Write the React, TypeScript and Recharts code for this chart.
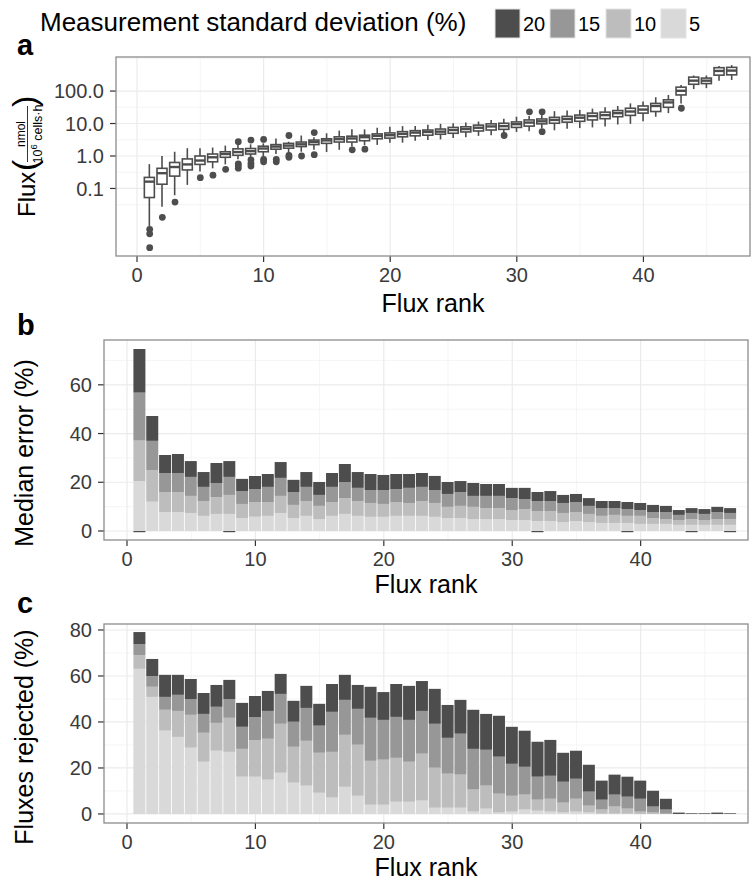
import React from "react";
import { ComposedChart, Bar, Scatter, XAxis, YAxis, CartesianGrid } from "recharts";

const FONT = "'Liberation Sans', Arial, Helvetica, sans-serif";

// ---------- shared x categories ----------
const ranks = [1, 2, 3, 4, 5, 6, 7, 8, 9, 10, 11, 12, 13, 14, 15, 16, 17, 18, 19, 20, 21, 22, 23, 24, 25, 26, 27, 28, 29, 30, 31, 32, 33, 34, 35, 36, 37, 38, 39, 40, 41, 42, 43, 44, 45, 46, 47];
const xTicks = [0, 10, 20, 30, 40];
const xMinor = [5, 15, 25, 35, 45];

// ---------- panel a: boxplots of flux (nmol / 10^6 cells h) ----------
const boxHigh = [0.56, 1.0, 1.35, 1.74, 1.74, 1.82, 2.09, 2.19, 2.29, 2.45, 3.47, 2.75, 4.27, 3.8, 5.01, 6.03, 6.61, 6.61, 7.41, 7.94, 8.32, 8.32, 9.12, 9.77, 10.2, 10.7, 11.5, 12.9, 14.1, 16.2, 17.0, 18.2, 24.0, 25.1, 26.3, 28.8, 31.6, 34.7, 41.7, 47.9, 64.6, 75.9, 155, 302, 302, 589, 631];
const boxQ3 = [0.219, 0.417, 0.631, 0.813, 1.0, 1.15, 1.35, 1.66, 1.7, 2.0, 2.24, 2.45, 2.69, 3.09, 3.39, 3.89, 4.07, 4.37, 4.79, 5.13, 5.62, 6.03, 6.31, 6.76, 7.59, 7.94, 8.91, 9.77, 10.2, 11.2, 12.9, 13.8, 15.5, 16.6, 18.2, 20.9, 22.4, 25.1, 29.5, 34.7, 41.7, 53.7, 132, 269, 251, 525, 537];
const boxMedian = [0.162, 0.295, 0.457, 0.55, 0.724, 0.912, 1.15, 1.32, 1.41, 1.7, 1.95, 2.09, 2.29, 2.69, 3.02, 3.31, 3.47, 3.8, 4.17, 4.37, 4.79, 5.25, 5.5, 5.62, 6.31, 6.76, 7.41, 8.13, 8.32, 9.55, 10.7, 11.7, 12.9, 13.8, 15.1, 17.0, 18.2, 20.9, 23.4, 26.9, 34.7, 44.7, 102, 209, 209, 417, 427];
const boxQ1 = [0.0525, 0.135, 0.24, 0.372, 0.55, 0.661, 0.912, 1.05, 1.15, 1.35, 1.62, 1.74, 1.95, 2.24, 2.45, 2.69, 2.69, 2.95, 3.39, 3.55, 3.89, 4.17, 4.37, 4.68, 5.01, 5.5, 5.89, 6.31, 6.61, 7.59, 8.32, 9.77, 10.2, 11.0, 11.7, 12.9, 14.1, 16.2, 17.8, 20.9, 23.4, 31.6, 75.9, 162, 170, 309, 316];
const boxLow = [0.0069, 0.0275, 0.0617, 0.129, 0.331, 0.417, 0.55, 0.79, 0.87, 0.955, 1.15, 1.2, 1.35, 1.55, 1.32, 1.55, 1.95, 2.14, 2.19, 2.57, 2.57, 2.95, 3.09, 3.24, 3.55, 3.8, 4.17, 4.37, 5.01, 5.5, 5.75, 7.08, 6.17, 6.92, 7.24, 7.59, 8.13, 9.33, 9.77, 11.7, 16.2, 20.9, 41.7, 115, 123, 209, 219];
const outlierRank = [1, 1, 1, 2, 3, 5, 6, 7, 8, 8, 8, 8, 9, 9, 9, 9, 10, 10, 10, 11, 11, 12, 12, 12, 13, 14, 14, 17, 18, 29, 31, 32, 32, 43];
const outlierFlux = [0.0055, 0.004, 0.0015, 0.0129, 0.038, 0.214, 0.257, 0.389, 2.75, 0.575, 0.5, 0.42, 3.09, 0.76, 0.59, 0.49, 3.24, 0.79, 0.66, 0.79, 0.66, 4.27, 1.05, 0.91, 1.0, 5.25, 1.1, 1.55, 1.62, 4.27, 22.9, 22.9, 5.62, 29.5];
const fluxTicks = [0.1, 1, 10, 100];

// ---------- panel b: median error (%) per measurement SD ----------
const errSd20 = [74.7, 47.2, 31.2, 31.6, 28.7, 24.2, 27.9, 28.7, 21.4, 22.6, 23.4, 28.3, 21.0, 24.2, 20.1, 23.8, 27.5, 24.2, 23.4, 23.0, 23.4, 23.4, 23.8, 22.6, 20.1, 20.5, 19.7, 19.3, 19.3, 17.7, 17.7, 16.0, 16.4, 14.8, 15.2, 13.5, 12.3, 12.3, 11.9, 11.5, 10.7, 10.3, 8.6, 9.4, 9.0, 9.9, 9.4];
const errSd15 = [56.8, 37.0, 23.8, 23.8, 22.2, 18.1, 19.7, 22.2, 16.4, 17.2, 18.1, 21.8, 16.0, 18.1, 14.8, 18.1, 20.1, 17.7, 16.8, 16.8, 17.2, 17.7, 18.1, 16.8, 15.2, 16.0, 14.4, 14.4, 14.4, 13.5, 13.1, 12.3, 12.3, 11.5, 11.9, 10.3, 9.4, 9.4, 9.0, 8.6, 7.8, 7.8, 6.6, 7.4, 7.0, 7.8, 7.4];
const errSd10 = [37.1, 25.0, 16.0, 16.0, 14.4, 12.3, 13.9, 14.8, 11.1, 11.9, 11.9, 14.4, 10.7, 12.3, 10.3, 11.9, 13.5, 12.3, 11.5, 11.1, 11.9, 11.5, 12.3, 11.5, 9.9, 10.3, 9.9, 9.4, 9.4, 8.6, 9.0, 8.2, 8.2, 7.4, 7.8, 7.0, 6.2, 6.6, 6.2, 6.2, 5.3, 4.9, 4.5, 4.9, 4.5, 4.9, 4.9];
const errSd5 = [20.5, 12.0, 7.8, 7.8, 7.4, 6.2, 7.0, 7.0, 5.3, 5.8, 6.2, 7.4, 5.3, 6.2, 4.9, 6.2, 7.0, 6.2, 5.8, 5.8, 6.2, 6.2, 6.2, 5.8, 5.3, 5.3, 4.9, 4.9, 4.9, 4.5, 4.5, 4.1, 4.1, 3.7, 4.1, 3.7, 3.3, 3.3, 3.3, 2.9, 2.9, 2.9, 2.5, 2.5, 2.5, 2.5, 2.5];
// slightly negative median errors (SD 20), visible as thin dark marks below zero
const errSd20Below = [-0.5, 0, 0, 0, 0, 0, 0, -0.5, 0, 0, 0, 0, 0, 0, 0, 0, 0, 0, 0, 0, 0, 0, 0, 0, 0, 0, 0, 0, 0, 0, 0, -0.5, 0, 0, 0, 0, 0, 0, -0.5, 0, 0, 0, 0, -0.5, 0, 0, -0.5];
const errTicks = [0, 20, 40, 60];

// ---------- panel c: fluxes rejected (%) per measurement SD ----------
const rejSd20 = [79.1, 67.4, 60.5, 60.5, 58.7, 52.6, 56.1, 58.3, 48.3, 51.3, 53.5, 60.9, 49.2, 55.7, 47.9, 56.5, 60.5, 56.1, 55.3, 53.0, 56.5, 55.7, 57.8, 54.4, 47.4, 49.6, 45.3, 43.5, 42.7, 37.9, 36.2, 31.4, 32.2, 26.6, 27.5, 21.4, 14.5, 17.1, 16.2, 14.5, 10.1, 6.6, 0.6, 0.3, 0.3, 0.6, 0.3];
const rejSd15 = [73.9, 60.0, 50.9, 51.8, 50.0, 43.5, 46.6, 50.0, 37.9, 42.2, 44.8, 52.2, 40.1, 46.1, 38.4, 44.4, 49.6, 45.7, 41.8, 40.9, 42.2, 40.9, 44.8, 39.2, 33.1, 34.9, 28.3, 27.9, 24.9, 21.8, 20.5, 16.2, 16.6, 14.0, 15.3, 9.7, 6.2, 8.4, 7.5, 6.6, 3.2, 1.9, 0, 0, 0, 0, 0];
const rejSd10 = [69.1, 55.3, 45.3, 44.8, 43.1, 35.3, 39.6, 41.8, 28.3, 32.2, 32.7, 39.2, 29.2, 31.8, 26.6, 27.0, 34.4, 30.1, 23.1, 23.6, 24.4, 22.7, 26.2, 20.1, 17.5, 17.1, 10.6, 12.3, 8.8, 7.9, 8.4, 6.2, 6.6, 4.9, 6.6, 3.6, 1.9, 3.2, 2.3, 1.0, 0.6, 0.1, 0, 0, 0, 0, 0];
const rejSd5 = [63.1, 50.9, 36.2, 33.5, 28.8, 22.7, 27.5, 27.0, 16.2, 16.2, 14.9, 17.9, 13.6, 12.3, 9.2, 7.1, 11.8, 7.9, 4.0, 4.0, 5.3, 5.3, 5.8, 2.7, 2.7, 2.7, 1.0, 2.3, 0.6, 1.0, 1.9, 1.4, 1.0, 0.6, 1.0, 0.6, 0.1, 0.1, 0.1, 0, 0, 0, 0, 0, 0, 0, 0];
const rejSd20Below = [0, 0, 0, 0, 0, 0, 0, 0, 0, 0, 0, 0, 0, 0, 0, 0, 0, 0, 0, 0, 0, 0, 0, 0, 0, 0, 0, 0, 0, 0, 0, 0, 0, 0, 0, 0, 0, 0, 0, 0, 0, 0, 0, 0, 0, 0, 0];
const rejTicks = [0, 20, 40, 60, 80];

// ---------- legend ----------
const sdLabels = ["20", "15", "10", "5"];
const sdColors = ["#4D4D4D", "#979797", "#BDBDBD", "#D9D9D9"];

// ---------- tables for the library ----------
const boxData = ranks.map((r, i) => ({
  rank: r,
  lo: boxLow[i],
  q1: boxQ1[i],
  med: boxMedian[i],
  q3: boxQ3[i],
  hi: boxHigh[i],
}));
const outlierData = outlierRank.map((r, i) => ({ rank: r, flux: outlierFlux[i] }));

// bars are overlaid (SD 20 behind, SD 5 in front): visible bands = running max
const overlay = (s5: number[], s10: number[], s15: number[], s20: number[], below: number[]) =>
  ranks.map((r, i) => {
    const m5 = s5[i];
    const m10 = Math.max(m5, s10[i]);
    const m15 = Math.max(m10, s15[i]);
    const m20 = Math.max(m15, s20[i]);
    return { rank: r, neg: below[i], v5: m5, v10: m10 - m5, v15: m15 - m10, v20: m20 - m15 };
  });
const errData = overlay(errSd5, errSd10, errSd15, errSd20, errSd20Below);
const rejData = overlay(rejSd5, rejSd10, rejSd15, rejSd20, rejSd20Below);

const INK = "#4D4D4D";
const tickStyle = { fontFamily: FONT, fontSize: 20, fill: "#3A3A3A" };

const BoxShape = (props: any) => {
  const { x, y, width, height, payload } = props;
  if (!payload || x == null) return null;
  const top = Math.min(y, y + height);
  const bottom = Math.max(y, y + height);
  const lh = Math.log10(payload.hi);
  const ll = Math.log10(payload.lo);
  const py = (v: number) => top + ((bottom - top) * (lh - Math.log10(v))) / (lh - ll);
  const cx = x + width / 2;
  const yq3 = py(payload.q3);
  const yq1 = py(payload.q1);
  const ym = py(payload.med);
  return (
    <g>
      <line x1={cx} x2={cx} y1={py(payload.hi)} y2={yq3} stroke={INK} strokeWidth={1.6} />
      <line x1={cx} x2={cx} y1={yq1} y2={py(payload.lo)} stroke={INK} strokeWidth={1.6} />
      <rect x={x} y={yq3} width={width} height={Math.max(0.5, yq1 - yq3)} fill="#FFFFFF" stroke={INK} strokeWidth={1.6} />
      <line x1={x} x2={x + width} y1={ym} y2={ym} stroke={INK} strokeWidth={2.4} />
    </g>
  );
};

const Dot = (props: any) => {
  const { cx, cy } = props;
  if (cx == null || cy == null) return null;
  return <circle cx={cx} cy={cy} r={3.4} fill={INK} />;
};

const yMinorA = [0.01, 0.0316228, 0.316228, 3.16228, 31.6228, 316.228, 1000];
const yMinorB = [10, 30, 50, 70];
const yMinorC = [10, 30, 50, 70];

const StackChart = ({ data, ticks, domain, minor, height, margin }: any) => (
  <ComposedChart width={755} height={height} data={data} margin={margin} stackOffset="sign">
    <CartesianGrid horizontalValues={minor} verticalValues={xMinor} stroke="#F3F3F3" strokeWidth={0.8} />
    <CartesianGrid horizontalValues={ticks} verticalValues={xTicks} stroke="#EBEBEB" strokeWidth={1.2} />
    <XAxis
      dataKey="rank"
      type="number"
      domain={[-1.79, 48.36]}
      allowDataOverflow
      ticks={xTicks}
      axisLine={false}
      tickLine={{ stroke: "#333333", strokeWidth: 1.2 }}
      tickSize={6}
      tickMargin={6}
      tick={tickStyle}
      height={30}
    />
    <YAxis
      type="number"
      domain={domain}
      allowDataOverflow
      ticks={ticks}
      axisLine={false}
      tickLine={{ stroke: "#333333", strokeWidth: 1.2 }}
      tickSize={6}
      tickMargin={6}
      tick={tickStyle}
      width={60}
    />
    <Bar dataKey="neg" stackId="s" fill={sdColors[0]} barSize={12} isAnimationActive={false} />
    <Bar dataKey="v5" stackId="s" fill={sdColors[3]} barSize={12} isAnimationActive={false} />
    <Bar dataKey="v10" stackId="s" fill={sdColors[2]} barSize={12} isAnimationActive={false} />
    <Bar dataKey="v15" stackId="s" fill={sdColors[1]} barSize={12} isAnimationActive={false} />
    <Bar dataKey="v20" stackId="s" fill={sdColors[0]} barSize={12} isAnimationActive={false} />
  </ComposedChart>
);

export default function App() {
  return (
    <div style={{ position: "fixed", left: 0, top: 0, width: 755, height: 881, background: "#FFFFFF", overflow: "hidden" }}>
      {/* panel a */}
      <div style={{ position: "absolute", left: 0, top: 0 }}>
        <ComposedChart width={755} height={300} data={boxData} margin={{ top: 57, right: 5, bottom: 14, left: 56 }}>
          <CartesianGrid horizontalValues={yMinorA} verticalValues={xMinor} stroke="#F3F3F3" strokeWidth={0.8} />
          <CartesianGrid horizontalValues={fluxTicks} verticalValues={xTicks} stroke="#EBEBEB" strokeWidth={1.2} />
          <XAxis
            dataKey="rank"
            type="number"
            domain={[-1.66, 48.42]}
            allowDataOverflow
            ticks={xTicks}
            axisLine={false}
            tickLine={{ stroke: "#333333", strokeWidth: 1.2 }}
            tickSize={6}
            tickMargin={6}
            tick={tickStyle}
            height={30}
          />
          <YAxis
            type="number"
            scale="log"
            domain={[0.00083, 1120]}
            allowDataOverflow
            ticks={fluxTicks}
            tickFormatter={(v: number) => v.toFixed(1)}
            axisLine={false}
            tickLine={{ stroke: "#333333", strokeWidth: 1.2 }}
            tickSize={6}
            tickMargin={6}
            tick={tickStyle}
            width={60}
          />
          <Bar dataKey={(d: any) => [d.lo, d.hi]} barSize={10} shape={BoxShape} isAnimationActive={false} />
          <Scatter data={outlierData} dataKey="flux" shape={Dot} isAnimationActive={false} />
        </ComposedChart>
      </div>
      {/* panel b */}
      <div style={{ position: "absolute", left: 0, top: 300 }}>
        <StackChart data={errData} ticks={errTicks} domain={[-3.7, 78.4]} minor={yMinorB} height={280} margin={{ top: 40, right: 7, bottom: 10, left: 44 }} />
      </div>
      {/* panel c */}
      <div style={{ position: "absolute", left: 0, top: 580 }}>
        <StackChart data={rejData} ticks={rejTicks} domain={[-3.93, 82.6]} minor={yMinorC} height={301} margin={{ top: 44, right: 7, bottom: 28, left: 44 }} />
      </div>

      {/* annotations */}
      <svg width={755} height={881} style={{ position: "absolute", left: 0, top: 0, pointerEvents: "none" }} fontFamily={FONT}>
        {/* panel borders */}
        <rect x={116} y={57} width={634} height={199} fill="none" stroke="#8C8C8C" strokeWidth={1.3} />
        <rect x={104} y={340} width={644} height={200} fill="none" stroke="#8C8C8C" strokeWidth={1.3} />
        <rect x={104} y={624} width={644} height={199} fill="none" stroke="#8C8C8C" strokeWidth={1.3} />

        {/* legend */}
        <text x={40} y={31} fontSize={26} fill="#000">Measurement standard deviation (%)</text>
        {sdLabels.map((lab, i) => {
          const xs = [495, 550, 606, 661][i];
          return (
            <g key={lab}>
              <rect x={xs} y={9} width={25} height={29} fill={sdColors[i]} stroke="#E3E3E3" strokeWidth={1} />
              <text x={xs + 28} y={31} fontSize={20} fill="#000">{lab}</text>
            </g>
          );
        })}

        {/* panel letters */}
        <text x={17} y={55} fontSize={29} fontWeight="bold">a</text>
        <text x={17} y={335} fontSize={29} fontWeight="bold">b</text>
        <text x={17} y={613} fontSize={29} fontWeight="bold">c</text>

        {/* x titles */}
        <text x={433} y={312} fontSize={25} textAnchor="middle">Flux rank</text>
        <text x={426} y={593} fontSize={25} textAnchor="middle">Flux rank</text>
        <text x={426} y={876} fontSize={25} textAnchor="middle">Flux rank</text>

        {/* y titles */}
        <text transform="translate(35,217) rotate(-90)" fontSize={24}>Flux</text>
        <text transform="translate(36,171) rotate(-90)" fontSize={34}>(</text>
        <text transform="translate(25,134) rotate(-90)" fontSize={12} textAnchor="middle">nmol</text>
        <line x1={27.5} x2={27.5} y1={106} y2={162} stroke="#000" strokeWidth={0.8} />
        <text transform="translate(41.5,134) rotate(-90)" fontSize={12.5} textAnchor="middle">
          10<tspan fontSize={9.5} dy={-5}>6</tspan><tspan dy={5}> cells·h</tspan>
        </text>
        <text transform="translate(36,107) rotate(-90)" fontSize={34}>)</text>

        <text transform="translate(33,453) rotate(-90)" fontSize={25} textAnchor="middle">Median error (%)</text>
        <text transform="translate(33,737) rotate(-90)" fontSize={25} textAnchor="middle">Fluxes rejected (%)</text>
      </svg>
    </div>
  );
}
